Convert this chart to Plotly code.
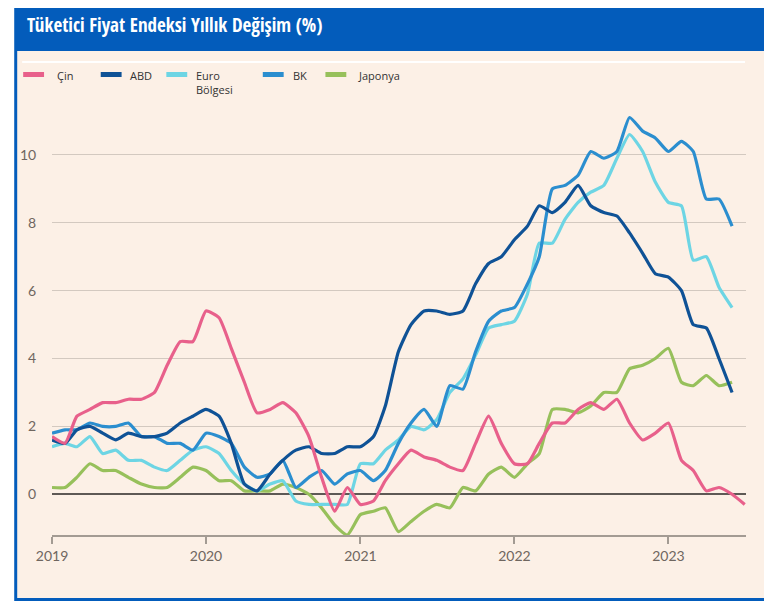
import pandas as pd
import plotly.graph_objects as go

months = pd.date_range("2019-01-01", "2023-07-01", freq="MS")

cin = [1.7, 1.5, 2.3, 2.5, 2.7, 2.7, 2.8, 2.8, 3.0, 3.8, 4.5, 4.5,
       5.4, 5.2, 4.3, 3.3, 2.4, 2.5, 2.7, 2.4, 1.7, 0.5, -0.5, 0.2,
       -0.3, -0.2, 0.4, 0.9, 1.3, 1.1, 1.0, 0.8, 0.7, 1.5, 2.3, 1.5,
       0.9, 0.9, 1.5, 2.1, 2.1, 2.5, 2.7, 2.5, 2.8, 2.1, 1.6, 1.8,
       2.1, 1.0, 0.7, 0.1, 0.2, 0.0, -0.3]
abd = [1.6, 1.5, 1.9, 2.0, 1.8, 1.6, 1.8, 1.7, 1.7, 1.8, 2.1, 2.3,
       2.5, 2.3, 1.5, 0.3, 0.1, 0.6, 1.0, 1.3, 1.4, 1.2, 1.2, 1.4,
       1.4, 1.7, 2.6, 4.2, 5.0, 5.4, 5.4, 5.3, 5.4, 6.2, 6.8, 7.0,
       7.5, 7.9, 8.5, 8.3, 8.6, 9.1, 8.5, 8.3, 8.2, 7.7, 7.1, 6.5,
       6.4, 6.0, 5.0, 4.9, 4.0, 3.0]
euro = [1.4, 1.5, 1.4, 1.7, 1.2, 1.3, 1.0, 1.0, 0.8, 0.7, 1.0, 1.3,
        1.4, 1.2, 0.7, 0.3, 0.1, 0.3, 0.4, -0.2, -0.3, -0.3, -0.3, -0.3,
        0.9, 0.9, 1.3, 1.6, 2.0, 1.9, 2.2, 3.0, 3.4, 4.1, 4.9, 5.0,
        5.1, 5.9, 7.4, 7.4, 8.1, 8.6, 8.9, 9.1, 9.9, 10.6, 10.1, 9.2,
        8.6, 8.5, 6.9, 7.0, 6.1, 5.5]
bk = [1.8, 1.9, 1.9, 2.1, 2.0, 2.0, 2.1, 1.7, 1.7, 1.5, 1.5, 1.3,
      1.8, 1.7, 1.5, 0.8, 0.5, 0.6, 1.0, 0.2, 0.5, 0.7, 0.3, 0.6,
      0.7, 0.4, 0.7, 1.5, 2.1, 2.5, 2.0, 3.2, 3.1, 4.2, 5.1, 5.4,
      5.5, 6.2, 7.0, 9.0, 9.1, 9.4, 10.1, 9.9, 10.1, 11.1, 10.7, 10.5,
      10.1, 10.4, 10.1, 8.7, 8.7, 7.9]
japonya = [0.2, 0.2, 0.5, 0.9, 0.7, 0.7, 0.5, 0.3, 0.2, 0.2, 0.5, 0.8,
           0.7, 0.4, 0.4, 0.1, 0.1, 0.1, 0.3, 0.2, 0.0, -0.4, -0.9, -1.2,
           -0.6, -0.5, -0.4, -1.1, -0.8, -0.5, -0.3, -0.4, 0.2, 0.1, 0.6, 0.8,
           0.5, 0.9, 1.2, 2.5, 2.5, 2.4, 2.6, 3.0, 3.0, 3.7, 3.8, 4.0,
           4.3, 3.3, 3.2, 3.5, 3.2, 3.3]

series_names = ["Çin", "ABD", "Euro<br>Bölgesi", "BK", "Japonya"]
series_values = [cin, abd, euro, bk, japonya]
series_colors = ["#e8608b", "#0f5296", "#6dd5e4", "#2b8ecf", "#97c05b"]

y_ticks = [0, 2, 4, 6, 8, 10]
x_ticks = ["2019-01-01", "2020-01-01", "2021-01-01", "2022-01-01", "2023-01-01"]
x_ticklabels = ["2019", "2020", "2021", "2022", "2023"]

OFF = 8  # page body margin
W, H = 772 - OFF, 603 - OFF
L, R, T, B = 48 - OFF, 746 - OFF, 87 - OFF, 535 - OFF


def px(x):
    return (x - OFF - L) / (R - L)


def py(y):
    return (B - (y - OFF)) / (B - T)


fig = go.Figure()
draw_order = [4, 2, 3, 1, 0]
for i in draw_order:
    fig.add_trace(go.Scatter(
        x=months[:len(series_values[i])], y=series_values[i],
        mode="lines", name=series_names[i],
        line=dict(color=series_colors[i], width=3.2, shape="spline", smoothing=0.5),
        showlegend=False, hoverinfo="skip"))

shapes = [
    dict(type="rect", xref="paper", yref="paper", x0=px(10), x1=px(790), y0=py(-10), y1=py(601),
         fillcolor="#035cbb", line=dict(width=0), layer="below"),
    dict(type="rect", xref="paper", yref="paper", x0=px(13), x1=px(766), y0=py(51), y1=py(598),
         fillcolor="#fcf0e6", line=dict(width=0), layer="below"),
    dict(type="line", xref="paper", yref="paper", x0=px(18), x1=px(745), y0=py(62), y1=py(62),
         line=dict(color="#ffffff", width=2), layer="below"),
]
annotations = [
    dict(text="Tüketici Fiyat Endeksi Yıllık Değişim (%)", xref="paper", yref="paper",
         x=px(21), y=py(25), xanchor="left", yanchor="middle", showarrow=False,
         font=dict(family="Liberation Sans Narrow, Open Sans Condensed, DejaVu Sans Condensed, sans-serif",
                   size=19, color="white", weight="bold")),
]

legend_swatch_x = [19, 97, 163, 260, 323]
legend_text_x = [51, 124, 191, 288, 354]
for i in range(5):
    shapes.append(dict(type="rect", xref="paper", yref="paper",
                       x0=px(legend_swatch_x[i]), x1=px(legend_swatch_x[i] + 21),
                       y0=py(72), y1=py(77), fillcolor=series_colors[i], line=dict(width=0)))
    annotations.append(dict(text=series_names[i], xref="paper", yref="paper",
                            x=px(legend_text_x[i]), y=py(66), xanchor="left", yanchor="top",
                            align="left", showarrow=False,
                            font=dict(family="Open Sans", size=11, color="#333333")))

fig.update_layout(
    width=W, height=H,
    margin=dict(l=L, r=W - R, t=T, b=H - B, pad=0),
    paper_bgcolor="white", plot_bgcolor="rgba(0,0,0,0)",
    shapes=shapes, annotations=annotations,
    showlegend=False,
    xaxis=dict(type="date", range=["2019-01-01", "2023-07-04"],
               tickvals=x_ticks, ticktext=x_ticklabels,
               showgrid=False, zeroline=False,
               showline=True, linecolor="#a39b93", linewidth=1.5,
               ticks="outside", ticklen=7, tickcolor="#a39b93", tickwidth=1.5,
               tickfont=dict(family="Lato", size=14, color="#6f665f")),
    yaxis=dict(range=[-1.2, 12], tickvals=y_ticks,
               showgrid=True, gridcolor="#d3c9c0", gridwidth=1,
               zeroline=True, zerolinecolor="#5e5955", zerolinewidth=1.5,
               showline=False,
               ticks="outside", ticklen=12, tickcolor="rgba(0,0,0,0)",
               tickfont=dict(family="Lato", size=14, color="#6f665f")),
)

fig.write_html("out.html")
